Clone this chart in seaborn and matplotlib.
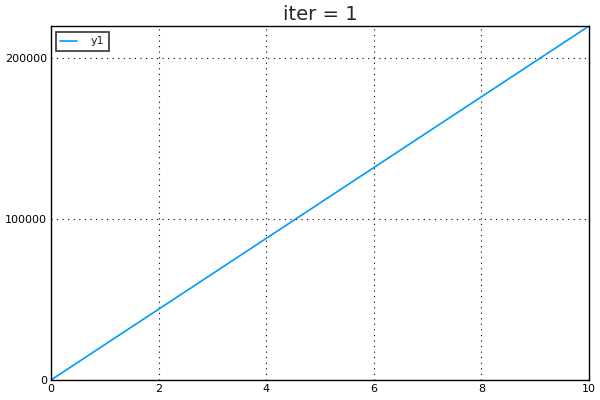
import matplotlib
matplotlib.use("Agg")
import matplotlib.pyplot as plt
import seaborn as sns
import pandas as pd

x_vals = [0, 1, 2, 3, 4, 5, 6, 7, 8, 9, 10]
y_vals = [0, 22000, 44000, 66000, 88000, 110000, 132000, 154000, 176000, 198000, 220000]
series_name = "y1"
title = "iter = 1"
x_ticks = [0, 2, 4, 6, 8, 10]
y_ticks = [0, 100000, 200000]

df = pd.DataFrame({"x": x_vals, "y": y_vals, "series": series_name})

sns.set_style("white")
plt.rcParams['font.family'] = ['DejaVu Sans']

fig = plt.figure(figsize=(6, 4), dpi=100)
ax = fig.add_axes([51/600, 20/400, 538/600, 354/400])

sns.lineplot(data=df, x="x", y="y", hue="series", palette=["#009AFA"], ax=ax, linewidth=1.2)

ax.set_xlim(0, 10)
ax.set_ylim(0, 220000)
ax.set_xticks(x_ticks)
ax.set_yticks(y_ticks)
ax.set_xticklabels([str(t) for t in x_ticks])
ax.set_yticklabels([str(t) for t in y_ticks])
ax.tick_params(direction="in", length=4, width=0.8, labelsize=8, colors="black", pad=3)
ax.grid(True, linestyle=(0, (1, 4)), color="black", linewidth=0.8)
for s in ax.spines.values():
    s.set_color("black")
    s.set_linewidth(1.0)
ax.set_xlabel("")
ax.set_ylabel("")
ax.set_title(title, fontsize=14, pad=4)

leg = ax.legend(loc="upper left", fontsize=8, frameon=True, fancybox=False,
                edgecolor="black", handlelength=1.5, handletextpad=1.2,
                borderpad=0.4, borderaxespad=0,
                bbox_to_anchor=(5/538, (380-32)/354))
leg.get_frame().set_linewidth(1.2)

fig.savefig("out.png", dpi=100)
